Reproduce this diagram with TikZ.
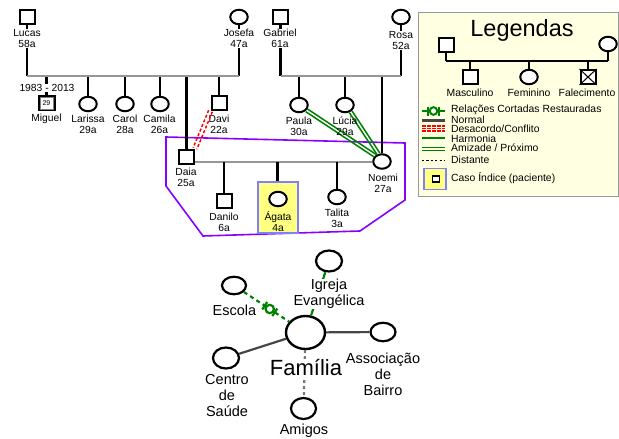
\documentclass[tikz,border=0pt]{standalone}
\usepackage{fontspec}
\setmainfont{Liberation Sans}
\usetikzlibrary{shapes.geometric,calc}
\definecolor{gr}{RGB}{0,128,0}
\definecolor{mgrey}{RGB}{150,150,150}
\definecolor{dgrey}{RGB}{70,70,70}
\definecolor{purp}{RGB}{136,0,255}
\definecolor{legbg}{RGB}{255,255,225}
\definecolor{idxy}{RGB}{255,255,128}
\definecolor{idxb}{RGB}{128,128,255}
\newcommand\lblf{\fontsize{10.3}{11}\selectfont}
\newcommand\legf{\fontsize{10.4}{10}\selectfont}
\newcommand\ecof{\fontsize{14.5}{15.8}\selectfont}
\newcommand\famf{\fontsize{22}{24}\selectfont}
\newcommand\titf{\fontsize{23.5}{25}\selectfont}
\begin{document}
\begin{tikzpicture}[x=1pt,y=-1pt,
 male/.style={draw,line width=2pt,minimum width=15pt,minimum height=14pt,inner sep=0pt,fill=white},
 fem/.style={ellipse,draw,line width=2pt,minimum width=17.5pt,minimum height=14.5pt,inner sep=0pt,fill=white},
 lbl/.style={font=\lblf,align=center,inner sep=0pt},
 plbl/.style={lbl,fill=white},
 kin/.style={line width=2.1pt,black},
 cpl/.style={line width=2.3pt,mgrey},
 eco/.style={ellipse,draw,line width=2.2pt,inner sep=0pt,fill=white},
 ecolbl/.style={font=\ecof,align=center,inner sep=0pt},
 legtxt/.style={font=\legf,anchor=west,inner sep=0pt},
 conf/.style={red,line width=1.5pt,dash pattern=on 3pt off 2pt},
 closeln/.style={gr,line width=1.5pt},
]
\useasboundingbox (0,0) rectangle (619,439);

% household polygon
\draw[purp,line width=1.6pt] (166,137) -- (405,143) -- (405,200) -- (360,231) -- (203,236) -- (166,186) -- cycle;

% ---------- generation 1 ----------
\node[male] (lucas) at (27,17) {};
\node[fem] (josefa) at (239,17) {};
\node[male] (gabriel) at (280.5,17) {};
\node[fem] (rosa) at (401,17) {};
\coordinate (lj1) at (27,76);
\coordinate (lj2) at (239,76);
\coordinate (gr1) at (280.5,76);
\coordinate (gr2) at (401,76);
\draw[kin] (lucas.south) -- (lj1);
\draw[kin] (josefa.south) -- (lj2);
\draw[kin] (gabriel.south) -- (gr1);
\draw[kin] (rosa.south) -- (gr2);
\node[plbl] (lucasl) at (27,38.5) {Lucas\\58a};
\node[plbl] (josefal) at (239,38.5) {Josefa\\47a};
\node[plbl] (gabriell) at (280,38.5) {Gabriel\\61a};
\node[plbl] (rosal) at (401,40.5) {Rosa\\52a};

% ---------- generation 2 ----------
\node[male,minimum width=16pt,minimum height=14.5pt] (miguel) at (46.5,103) {\fontsize{7}{7}\selectfont 29};
\draw[gray,line width=0.5pt] ($(miguel.south west)+(2.5,-2.5)$) rectangle ($(miguel.north east)+(-2.5,2.5)$);
\node[fem] (larissa) at (88,104) {};
\node[fem] (carol) at (125,104) {};
\node[fem] (camila) at (160,104) {};
\node[male] (davi) at (219,103) {};
\node[male] (daia) at (186.5,156.5) {};
\node[fem] (paula) at (299,105) {};
\node[fem] (lucia) at (345,105) {};
\node[fem] (noemi) at (382,161.5) {};

\draw[kin] (miguel.north) -- (miguel.north |- lj1);
\draw[kin] (larissa.north) -- (larissa.north |- lj1);
\draw[kin] (carol.north) -- (carol.north |- lj1);
\draw[kin] (camila.north) -- (camila.north |- lj1);
\draw[kin] (davi.north) -- (davi.north |- lj1);
\draw[kin] (daia.north) -- (daia.north |- lj1);
\draw[kin] (paula.north) -- (paula.north |- gr1);
\draw[kin] (lucia.north) -- (lucia.north |- gr1);
\draw[kin] (noemi.north) -- (noemi.north |- gr1);
\draw[cpl] (lj1) -- (lj2);
\draw[cpl] (gr1) -- (gr2);

\node[plbl] (migyr) at (47,88) {1983 - 2013};
\node[lbl] (migl) at (46.5,119) {Miguel};
\node[lbl] (larl) at (88,124.5) {Larissa\\29a};
\node[lbl] (caroll) at (125,124.5) {Carol\\28a};
\node[lbl] (camilal) at (159.5,124.5) {Camila\\26a};
\node[lbl] (davil) at (219,124) {Davi\\22a};
\node[lbl] (daial) at (186,177.5) {Daia\\25a};

% relations
\draw[conf] ($(davi.south west)!2pt!90:(daia.north east)$) -- ($(daia.north east)!2pt!-90:(davi.south west)$);
\draw[conf] ($(davi.south west)!2pt!-90:(daia.north east)$) -- ($(daia.north east)!2pt!90:(davi.south west)$);
\draw[closeln] ($(paula.-35)!1.6pt!90:(noemi.140)$) -- ($(noemi.140)!1.6pt!-90:(paula.-35)$);
\draw[closeln] ($(paula.-35)!1.6pt!-90:(noemi.140)$) -- ($(noemi.140)!1.6pt!90:(paula.-35)$);
\draw[closeln] ($(lucia.-50)!1.6pt!90:(noemi.115)$) -- ($(noemi.115)!1.6pt!-90:(lucia.-50)$);
\draw[closeln] ($(lucia.-50)!1.6pt!-90:(noemi.115)$) -- ($(noemi.115)!1.6pt!90:(lucia.-50)$);

\node[lbl] (paulal) at (299,126.5) {Paula\\30a};
\node[lbl] (lucial) at (345,126.5) {Lúcia\\29a};
\node[lbl] (noemil) at (383,183.5) {Noemi\\27a};

% ---------- generation 3 ----------
\coordinate (dn) at (0,162);
\draw[cpl] (daia.east |- dn) -- (noemi.west |- dn);
\node[draw=idxb,fill=idxy,line width=2pt,minimum width=40pt,minimum height=51pt,inner sep=0pt] (agbox) at (277.5,207) {};
\node[male] (danilo) at (224,201) {};
\node[fem] (agata) at (278,199) {};
\node[fem] (talita) at (337,197) {};
\draw[kin] (danilo.north) -- (danilo.north |- dn);
\draw[kin] (agbox.north) -- (agbox.north |- dn);
\draw[kin] (talita.north) -- (talita.north |- dn);
\node[lbl] (danilol) at (224,222.5) {Danilo\\6a};
\node[lbl] (agatal) at (278,221.5) {Ágata\\4a};
\node[lbl] (talital) at (337,218) {Talita\\3a};

% ---------- legend ----------
\draw[gray!80,fill=legbg,line width=0.8pt] (418,12) rectangle (618,196);
\node[inner sep=0pt,font=\titf] (legt) at (522,30) {Legendas};
\node[male] (lm) at (446,45) {};
\node[fem] (lf) at (608,44) {};
\node[male] (lc1) at (470,77) {};
\node[fem] (lc2) at (529,77) {};
\node[male] (lc3) at (588,77) {};
\draw[line width=1pt] (lc3.north west) -- (lc3.south east) (lc3.north east) -- (lc3.south west);
\coordinate (lg) at (0,61);
\draw[kin] (lm.south) -- (lm.south |- lg);
\draw[kin] (lf.south) -- (lf.south |- lg);
\draw[kin] (lm.south |- lg) -- (lf.south |- lg);
\draw[kin] (lc1.north) -- (lc1.north |- lg);
\draw[kin] (lc2.north) -- (lc2.north |- lg);
\draw[kin] (lc3.north) -- (lc3.north |- lg);
\node[lbl,font=\legf] (lc1l) at (470,93) {Masculino};
\node[lbl,font=\legf] (lc2l) at (529,93) {Feminino};
\node[lbl,font=\legf] (lc3l) at (587,93) {Falecimento};

% legend line samples
\coordinate (ls1a) at (422,111); \coordinate (ls1b) at (445,111); \coordinate (ls1c) at (433.5,111);
\draw[gr,line width=2pt] (ls1a) -- (ls1b);
\draw[gr,line width=2pt] ($(ls1c)+(-5.5,-4.5)$) -- ($(ls1c)+(-5.5,4.5)$);
\draw[gr,line width=2pt] ($(ls1c)+(5.5,-4.5)$) -- ($(ls1c)+(5.5,4.5)$);
\draw[gr,line width=2pt,fill=white] (ls1c) circle[radius=3.8pt];
\node[legtxt] (lt1) at (451,109.5) {Relações Cortadas Restauradas};
\draw[dgrey,line width=2.4pt] (422,120.5) -- (445,120.5);
\node[legtxt] (lt2) at (451,119.5) {Normal};
\foreach \yy in {126,128.5,131}{\draw[red,line width=1.4pt,dash pattern=on 3.5pt off 1.5pt] (422,\yy) -- (445,\yy);}
\node[legtxt] (lt3) at (451,128.5) {Desacordo/Conflito};
\draw[gr,line width=2.2pt] (422,138) -- (445,138);
\node[legtxt] (lt4) at (451,138.5) {Harmonia};
\draw[gr,line width=1.3pt] (422,147.5) -- (445,147.5);
\draw[gr,line width=1.3pt] (422,150.5) -- (445,150.5);
\node[legtxt] (lt5) at (451,148) {Amizade / Próximo};
\draw[black,line width=1pt,dash pattern=on 2.2pt off 2.2pt] (422,160) -- (445,160);
\node[legtxt] (lt6) at (451,159.5) {Distante};
\node[draw=idxb,fill=idxy,line width=1.4pt,minimum width=22pt,minimum height=21pt,inner sep=0pt] (lbox) at (435,179) {};
\node[draw,fill=white,line width=1.7pt,minimum width=7pt,minimum height=6pt,inner sep=0pt] (lboxin) at (436,179) {};
\node[legtxt] (lt7) at (451,178.5) {Caso Índice (paciente)};

% ---------- ecomap ----------
\node[eco,line width=2.4pt,minimum width=39pt,minimum height=33pt] (fam) at (305.5,332.5) {};
\node[eco,minimum width=24pt,minimum height=17.5pt] (esc) at (234,285.5) {};
\node[eco,minimum width=26pt,minimum height=21pt] (igr) at (329,261) {};
\node[eco,minimum width=25pt,minimum height=18.5pt] (asb) at (383,332) {};
\node[eco,minimum width=26pt,minimum height=21pt] (cen) at (226,358) {};
\node[eco,minimum width=25pt,minimum height=21pt] (ami) at (303.5,408.5) {};
\draw[dgrey,line width=2.2pt] (cen) -- (fam);
\draw[dgrey,line width=2.2pt] (fam) -- (asb);
\draw[gr,line width=2.2pt] (igr) -- (fam);
\draw[gr,line width=2.2pt,dash pattern=on 4pt off 3.5pt] (esc) -- (fam);
\draw[mgrey!80!black,line width=2.2pt,dash pattern=on 3pt off 3pt] (fam) -- (ami);
\coordinate (rs) at ($(esc)!0.5!(fam)$);
\path ($(rs)!6pt!(esc)$) coordinate (rsa) ($(rs)!6pt!(fam)$) coordinate (rsb);
\draw[gr,line width=2.2pt] ($(rsa)!4.5pt!90:(rs)$) -- ($(rsa)!4.5pt!-90:(rs)$);
\draw[gr,line width=2.2pt] ($(rsb)!4.5pt!90:(rs)$) -- ($(rsb)!4.5pt!-90:(rs)$);
\draw[gr,line width=2.2pt,fill=white] (rs) circle[radius=4.2pt];

\node[ecolbl] (escl) at (234.5,310) {Escola};
\node[ecolbl,fill=white] (igrl) at (329,294) {Igreja\\Evangélica};
\node[ecolbl] (asbl) at (383,374.5) {Associação\\de\\Bairro};
\node[ecolbl] (cenl) at (227,395.5) {Centro\\de\\Saúde};
\node[ecolbl,font=\famf,fill=white,inner sep=1pt] (faml) at (306,368) {Família};
\node[ecolbl] (amil) at (304,431) {Amigos};
\end{tikzpicture}
\end{document}
